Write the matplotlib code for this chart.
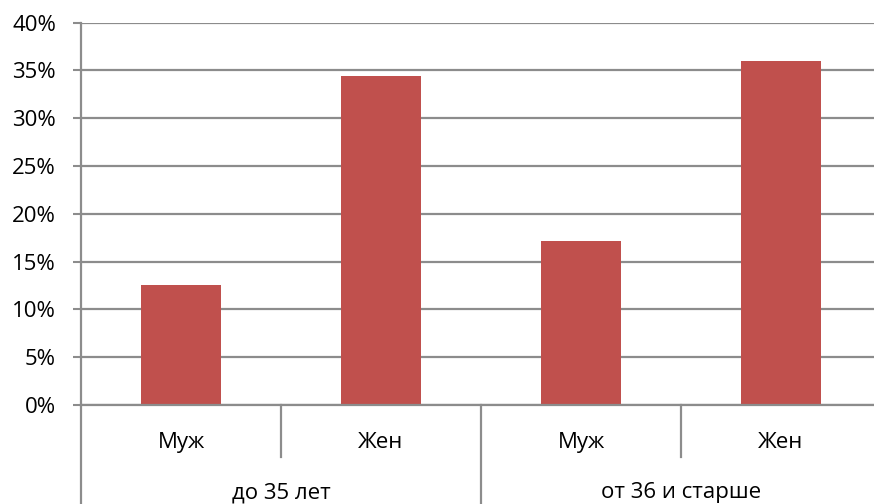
import matplotlib
matplotlib.use("Agg")
import matplotlib.pyplot as plt
from matplotlib.ticker import PercentFormatter

# shares by age group and sex
groups = ["до 35 лет", "от 36 и старше"]
sexes = ["Муж", "Жен", "Муж", "Жен"]
values = [12.5, 34.4, 17.2, 36.0]

plt.rcParams['font.family'] = ['Open Sans', 'DejaVu Sans']

grid_c = "#8c8c8c"
fs = 16
fig = plt.figure(figsize=(8.74, 5.04), dpi=100)
ax = fig.add_axes([81 / 874, 99 / 504, 800 / 874, 382.5 / 504])

x = list(range(len(values)))
ax.bar(x, values, width=0.4, color="#C0504D", zorder=3)

ax.set_xlim(-0.5, 3.5)
ax.set_ylim(0, 40)
ax.set_yticks(range(0, 41, 5))
ax.yaxis.set_major_formatter(PercentFormatter(decimals=0))
ax.tick_params(axis="y", length=6, width=1.5, color=grid_c, pad=12, labelsize=fs)
ax.set_xticks([])
ax.grid(axis="y", color=grid_c, linewidth=1.6, zorder=0)
for s in ["top", "right", "bottom"]:
    ax.spines[s].set_visible(False)
ax.spines["left"].set_color(grid_c)
ax.spines["left"].set_linewidth(1.6)

trans = ax.get_xaxis_transform()
# baseline at 0%
ax.plot([-0.5, 3.5], [0, 0], transform=trans, color=grid_c, lw=1.6, clip_on=False, zorder=4)

# category axis: sex labels and group labels underneath
for xi, s in zip(x, sexes):
    ax.text(xi, -0.097, s, transform=trans, ha="center", va="center", fontsize=fs)
for gi, g in enumerate(groups):
    ax.text(gi * 2 + 0.5, -0.229, g, transform=trans, ha="center", va="center", fontsize=fs)

for xs in [0.5, 2.5]:
    ax.plot([xs, xs], [0, -0.136], transform=trans, color=grid_c, lw=1.6, clip_on=False)
for xs in [-0.5, 1.5, 3.5]:
    ax.plot([xs, xs], [0, -0.3], transform=trans, color=grid_c, lw=1.6, clip_on=False)

fig.savefig("out.png", dpi=100)
